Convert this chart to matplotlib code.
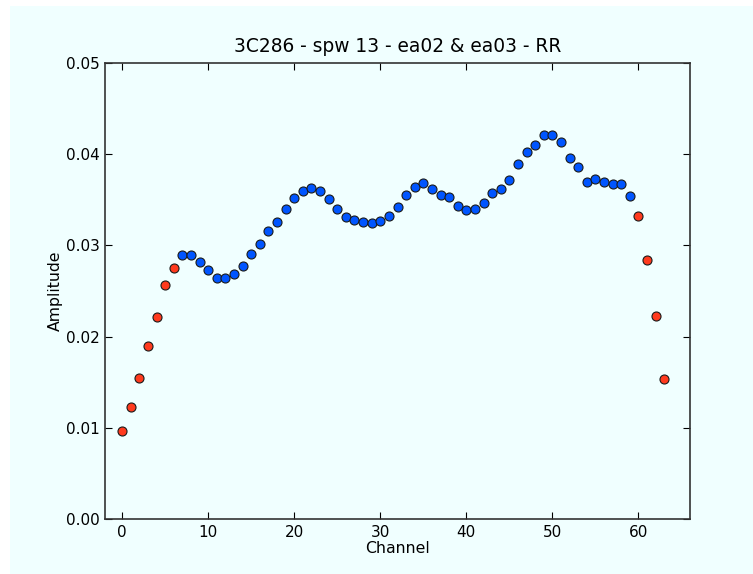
import matplotlib
matplotlib.use('Agg')
import matplotlib.pyplot as plt
from matplotlib.patches import Rectangle

# Amplitude per channel
channels = list(range(64))
amplitude = [
    0.0096, 0.0123, 0.0155, 0.0190, 0.0222, 0.0257, 0.0275, 0.0290,
    0.0290, 0.0282, 0.0273, 0.0264, 0.0264, 0.0269, 0.0277, 0.0291,
    0.0302, 0.0316, 0.0326, 0.0340, 0.0352, 0.0360, 0.0363, 0.0360,
    0.0351, 0.0340, 0.0331, 0.0328, 0.0326, 0.0325, 0.0327, 0.0332,
    0.0342, 0.0355, 0.0364, 0.0368, 0.0362, 0.0355, 0.0353, 0.0343,
    0.0339, 0.0340, 0.0346, 0.0357, 0.0362, 0.0372, 0.0389, 0.0402,
    0.0410, 0.0421, 0.0421, 0.0413, 0.0396, 0.0386, 0.0370, 0.0373,
    0.0370, 0.0367, 0.0367, 0.0354, 0.0332, 0.0284, 0.0223, 0.0154,
]
flagged = [0, 1, 2, 3, 4, 5, 6, 60, 61, 62, 63]  # edge channels shown in red

bg = '#F0FFFF'
fig = plt.figure(figsize=(7.53, 5.74), dpi=100, facecolor='white')
# light background starts a few pixels in from the top-left corner
fig.patches.append(Rectangle((10 / 753, -0.1), 1.2, 1.1 - 6 / 574, transform=fig.transFigure,
                             facecolor=bg, edgecolor='none', zorder=-10))

ax = fig.add_axes([105 / 753, 55 / 574, 585 / 753, 456 / 574])
ax.set_facecolor(bg)

good_x = [c for c in channels if c not in flagged]
good_y = [amplitude[c] for c in good_x]
bad_x = flagged
bad_y = [amplitude[c] for c in flagged]

ax.plot(good_x, good_y, 'o', color='#0055FF', markeredgecolor='#1a1a1a',
        markeredgewidth=0.8, markersize=6.5)
ax.plot(bad_x, bad_y, 'o', color='#FF3A1E', markeredgecolor='#1a1a1a',
        markeredgewidth=0.8, markersize=6.5)

ax.set_xlim(-2, 66)
ax.set_ylim(0, 0.05)
ax.set_xticks([0, 10, 20, 30, 40, 50, 60])
ax.set_yticks([0.0, 0.01, 0.02, 0.03, 0.04, 0.05])
ax.yaxis.set_major_formatter(matplotlib.ticker.FormatStrFormatter('%.2f'))
ax.tick_params(direction='in', top=True, right=True, length=5, labelsize=11)
ax.tick_params(axis='y', pad=4)
ax.tick_params(axis='x', pad=4)
for s in ax.spines.values():
    s.set_color('#333333')
    s.set_linewidth(1.2)

ax.set_xlabel('Channel', fontsize=11.3, labelpad=1)
ax.set_ylabel('Amplitude', fontsize=11.3, labelpad=2)
ax.set_title('3C286 - spw 13 - ea02 & ea03 - RR', fontsize=13.4, pad=8)

fig.savefig('out.png', dpi=100, facecolor=fig.get_facecolor())
